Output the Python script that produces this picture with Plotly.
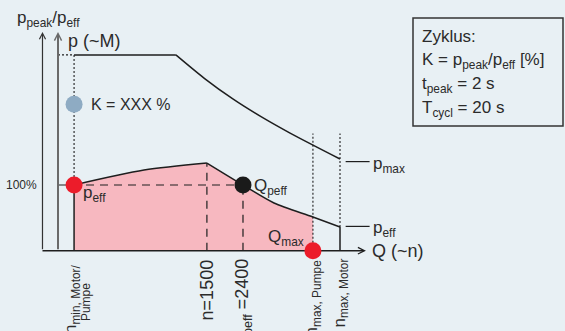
import plotly.graph_objects as go

# Q (~n) axis in relative units (100 = n_max,Motor), p axis in % of p_eff
speed_pos = [5.7, 52.8, 65.6, 90.4, 100.0]   # n_min, n=1500, n_peff, n_max Pumpe, n_max Motor

# p_max characteristic: constant torque plateau, then power-limited descent
p_max_plateau_q = [5.7, 41.8]
p_max_plateau_p = [298.0, 298.0]
p_max_fall_q = [41.8, 52.0, 62.0, 72.0, 82.3, 100.0]
p_max_fall_p = [298.0, 262.0, 231.0, 204.0, 179.0, 139.6]

# p_eff characteristic
p_eff_rise_q = [5.7, 30.5, 52.8]
p_eff_rise_p = [100.0, 122.7, 133.4]
p_eff_fall_q = [52.8, 65.6, 76.6, 90.4, 100.0]
p_eff_fall_p = [133.4, 100.0, 72.6, 51.3, 36.0]

k_value = 223.0          # K = p_peak/p_eff point
p_ref = 100.0            # 100 % line
axis_top = 333.0
q_axis_end = 109.2
left_axis_q = -5.5
guide_top = 178.5        # upper end of the dotted n_max guides

# ---- canvas mapping (pixels of a 565x331 canvas) ----
W, H = 565, 331
X0_PX, X_SCALE = 58.0, 2.82
Y0_PX, Y_SCALE = 250.7, 0.657
x_range = [-X0_PX / X_SCALE, (W - X0_PX) / X_SCALE]
y_range = [-(H - Y0_PX) / Y_SCALE, Y0_PX / Y_SCALE]

BG = "#e8f0f4"
INK = "#1e1e1e"
TXT = "#2b2b2b"
PINK = "#f7b8c0"
RED = "#ec1c2a"
BLUE = "#8eabc3"
FONT = "Liberation Sans, Arial, sans-serif"

n_min, n1500, n_peff, n_max_p, n_max_m = speed_pos

fig = go.Figure()

def line(x, y, color=INK, width=1.5, dash="solid", shape="linear", smoothing=0.8):
    fig.add_trace(go.Scatter(x=x, y=y, mode="lines",
                             line=dict(color=color, width=width, dash=dash, shape=shape, smoothing=smoothing),
                             hoverinfo="skip", showlegend=False))

# pink area under p_eff up to Q_max
cut = p_eff_fall_q.index(n_max_p) + 1
for qx, py in [(p_eff_rise_q, p_eff_rise_p), (p_eff_fall_q[:cut], p_eff_fall_p[:cut])]:
    fig.add_trace(go.Scatter(x=qx, y=py, mode="lines", fill="tozeroy", fillcolor=PINK,
                             line=dict(width=0, color=PINK, shape="spline", smoothing=0.8),
                             hoverinfo="skip", showlegend=False))

# dashed guide lines
dash_long = "8px,6px"
line([0, n_peff], [p_ref, p_ref], dash=dash_long, width=1.2)
line([n1500, n1500], [0, p_eff_rise_p[-1]], dash=dash_long, width=1.2)
line([n_peff, n_peff], [0, p_ref], dash=dash_long, width=1.2)

# dotted guide lines
dot = "2px,2px"
line([n_min, n_min], [p_ref, p_max_plateau_p[0]], dash=dot, width=1.1)
line([0, n_min], [p_max_plateau_p[0]] * 2, dash=dot, width=1.1)
line([n_max_p, n_max_p], [0, guide_top], dash=dot, width=1.1)
line([n_max_m, n_max_m], [p_eff_fall_p[-1], guide_top], dash=dot, width=1.1)

# p_max curve
line(p_max_plateau_q, p_max_plateau_p)
line(p_max_fall_q, p_max_fall_p, shape="spline")

# p_eff curve with its vertical borders
line([n_min, n_min], [0, p_eff_rise_p[0]])
line(p_eff_rise_q, p_eff_rise_p, shape="spline")
line(p_eff_fall_q, p_eff_fall_p, shape="spline")
line([n_max_m, n_max_m], [0, p_eff_fall_p[-1]])

# baseline
line([left_axis_q, q_axis_end - 1], [0, 0], width=1.5)

# leader ticks next to the curve ends
line([102.0, 110.5], [p_max_fall_p[-1] - 4, p_max_fall_p[-1] - 4], width=1.2)
line([102.0, 110.5], [p_eff_fall_p[-1] + 1, p_eff_fall_p[-1] + 1], width=1.2)

# points
fig.add_trace(go.Scatter(x=[n_min, n_max_p], y=[p_ref, 0], mode="markers",
                         marker=dict(size=17, color=RED), hoverinfo="skip", showlegend=False))
fig.add_trace(go.Scatter(x=[n_peff], y=[p_ref], mode="markers",
                         marker=dict(size=17, color="#1a1a1a"), hoverinfo="skip", showlegend=False))
fig.add_trace(go.Scatter(x=[n_min], y=[k_value], mode="markers",
                         marker=dict(size=17, color=BLUE), hoverinfo="skip", showlegend=False))

ann = []
# axes with open arrow heads
for xq, col, wd, sz in [(left_axis_q, "#333333", 1.2, 1.0), (0, "#6a6a6a", 2.0, 0.7)]:
    ann.append(dict(x=xq, y=axis_top, ax=xq, ay=0, xref="x", yref="y", axref="x", ayref="y",
                    showarrow=True, arrowhead=5, arrowsize=sz,
                    arrowwidth=wd, arrowcolor=col, text=""))
ann.append(dict(x=q_axis_end, y=0, ax=q_axis_end - 2, ay=0, xref="x", yref="y", axref="x", ayref="y",
                showarrow=True, arrowhead=5, arrowsize=1.0, arrowwidth=1.3, arrowcolor=INK, text=""))

def txt(x, y, s, size=17, xanchor="left", yanchor="middle", xref="x", yref="y", angle=0, color=TXT, **kw):
    ann.append(dict(x=x, y=y, text=s, xref=xref, yref=yref, xanchor=xanchor, yanchor=yanchor,
                    showarrow=False, textangle=angle, font=dict(family=FONT, size=size, color=color), **kw))

def px_x(p):
    return (p - X0_PX) / X_SCALE

def px_y(p):
    return (Y0_PX - p) / Y_SCALE

txt(px_x(15), px_y(19), "p<sub>peak</sub>/p<sub>eff</sub>", size=17)
txt(px_x(66), px_y(41), "p (~M)", size=18)
txt(n_min, k_value, "K = XXX %", size=16, xshift=15)
txt(n_min, p_ref, "p<sub>eff</sub>", size=17, xshift=7, yshift=-9)
txt(n_peff, p_ref, "Q<sub>peff</sub>", size=17, xshift=9, yshift=-2)
txt(n_max_p, 0, "Q<sub>max</sub>", size=17, xanchor="right", xshift=-7, yshift=13)
txt(px_x(371), p_max_fall_p[-1] - 4, "p<sub>max</sub>", size=17, yshift=-3)
txt(px_x(371), p_eff_fall_p[-1] + 1, "p<sub>eff</sub>", size=17, yshift=-3)
txt(q_axis_end, 0, "Q (~n)", size=18, xshift=4)
txt(left_axis_q, p_ref, "100%", size=12, xanchor="right", xshift=-3)

# rotated speed labels below the Q axis
lab_top = px_y(257)
txt(n_min, lab_top, "n<sub>min, Motor/</sub>", size=17, angle=-90, yanchor="top", xanchor="center", xshift=-2, yshift=-5)
txt(n_min, px_y(323), "Pumpe", size=12, angle=-90, yanchor="bottom", xanchor="center", xshift=12)
txt(n1500, lab_top, "n=1500", size=18, angle=-90, yanchor="top", xanchor="center")
txt(n_peff, lab_top, "n<sub>peff</sub> =2400", size=18, angle=-90, yanchor="top", xanchor="center")
txt(n_max_p, lab_top, "n<sub>max, Pumpe</sub>", size=17, angle=-90, yanchor="top", xanchor="center")
txt(n_max_m, lab_top, "n<sub>max, Motor</sub>", size=17, angle=-90, yanchor="top", xanchor="center")

# info box
box_lines = ["Zyklus:", "K = p<sub>peak</sub>/p<sub>eff</sub> [%]", "t<sub>peak</sub> = 2 s", "T<sub>cycl</sub> = 20 s"]
for i, s in enumerate(box_lines):
    txt(420 / W, 1 - (37 + 24 * i) / H, s, size=17, xref="paper", yref="paper", color=TXT)

fig.update_layout(
    width=W, height=H, margin=dict(l=0, r=0, t=0, b=0),
    paper_bgcolor=BG, plot_bgcolor=BG,
    xaxis=dict(range=x_range, visible=False, fixedrange=True),
    yaxis=dict(range=y_range, visible=False, fixedrange=True),
    annotations=ann,
    shapes=[dict(type="rect", xref="paper", yref="paper",
                 x0=413 / W, x1=563 / W, y0=1 - 126 / H, y1=1 - 18 / H,
                 line=dict(color="#333333", width=1.5), fillcolor="rgba(0,0,0,0)")],
)

fig.write_html("out.html")
